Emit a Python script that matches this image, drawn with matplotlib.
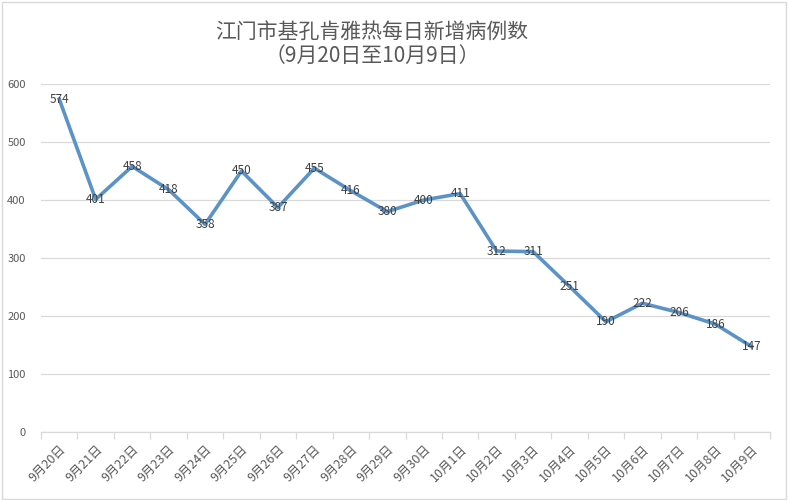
import matplotlib
matplotlib.use("Agg")
import matplotlib.pyplot as plt
from matplotlib.patches import Rectangle

plt.rcParams['font.family'] = ['Noto Sans CJK SC', 'DejaVu Sans']

dates = ["9月20日", "9月21日", "9月22日", "9月23日", "9月24日", "9月25日", "9月26日",
         "9月27日", "9月28日", "9月29日", "9月30日", "10月1日", "10月2日", "10月3日",
         "10月4日", "10月5日", "10月6日", "10月7日", "10月8日", "10月9日"]
cases = [574, 401, 458, 418, 358, 450, 387, 455, 416, 380, 400, 411, 312, 311,
         251, 190, 222, 206, 186, 147]
yticks = [0, 100, 200, 300, 400, 500, 600]
title = "江门市基孔肯雅热每日新增病例数\n（9月20日至10月9日）"

fig = plt.figure(figsize=(7.88, 5.0), dpi=100)
ax = fig.add_axes([41/788, 68/500, (770-41)/788, (432-84)/500])

x = list(range(len(cases)))
ax.plot(x, cases, color="#5B93C7", lw=2.6, solid_joinstyle="round", zorder=3)
for xi, v in zip(x, cases):
    ax.text(xi, v, str(v), ha="center", va="center", fontsize=8.5, color="#404040", zorder=4)

ax.set_xlim(-0.5, len(cases) - 0.5)
ax.set_ylim(0, 600)
ax.set_yticks(yticks)
ax.set_yticklabels([str(t) for t in yticks], fontsize=8, color="#595959")
ax.tick_params(axis="y", length=0, pad=11)
ax.yaxis.grid(True, color="#D9D9D9", lw=0.9)
ax.set_axisbelow(True)

ax.set_xticks(x)
ax.set_xticklabels(dates, rotation=45, ha="right", rotation_mode="anchor",
                   fontsize=9, color="#595959")
ax.tick_params(axis="x", which="major", length=0, pad=8)
ax.set_xticks([i - 0.5 for i in range(len(cases) + 1)], minor=True)
ax.tick_params(axis="x", which="minor", length=5, color="#D9D9D9", width=0.9)

for s in ["left", "right", "top"]:
    ax.spines[s].set_visible(False)
ax.spines["bottom"].set_color("#D9D9D9")
ax.spines["bottom"].set_linewidth(0.9)

fig.text(372/788, 1 - 44/500, title, ha="center", va="center", fontsize=15,
         color="#595959", linespacing=1.1)

fig.patches.append(Rectangle((0.002, 0.003), 0.996, 0.994, transform=fig.transFigure,
                             fill=False, edgecolor="#D9D9D9", lw=1))

fig.savefig("out.png", dpi=100)
